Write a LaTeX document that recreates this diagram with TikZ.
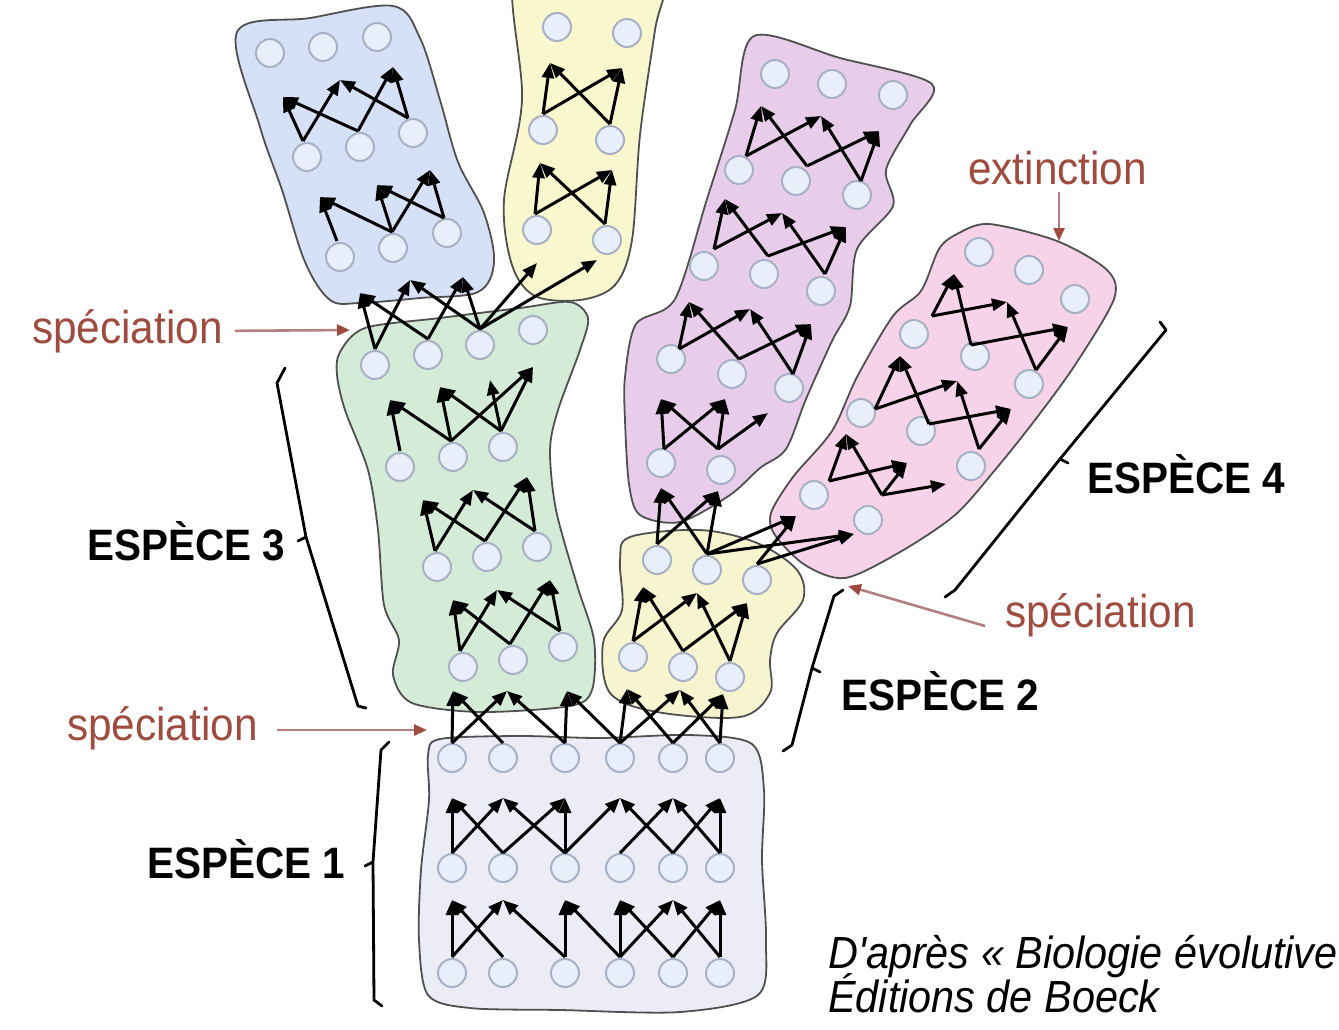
\documentclass[tikz,border=0pt]{standalone}
\usepackage{fontspec}
\setmainfont{Liberation Sans}
\newfontfamily\labfont{Liberation Sans}[FakeStretch=0.92]
\usetikzlibrary{arrows.meta}
\definecolor{outl}{RGB}{80,80,80}
\definecolor{cblue}{RGB}{214,224,246}
\definecolor{cyel}{RGB}{249,247,205}
\definecolor{cgreen}{RGB}{212,235,215}
\definecolor{cpink}{RGB}{232,205,234}
\definecolor{cpinkb}{RGB}{246,211,232}
\definecolor{cyelb}{RGB}{246,245,208}
\definecolor{clav}{RGB}{236,236,247}
\definecolor{cellfill}{RGB}{232,239,250}
\definecolor{celldraw}{RGB}{168,177,196}
\definecolor{redtxt}{RGB}{158,76,64}
\definecolor{redline}{RGB}{178,128,128}
\begin{document}
\begin{tikzpicture}[x=1pt,y=-1pt,
  region/.style={draw=outl,line width=1.8pt},
  cellc/.style={fill=cellfill,draw=celldraw,line width=2pt},
  arr/.style={draw=black,line width=3pt,-{Triangle[length=15pt,width=12pt]}},
  labarr/.style={draw=redline,line width=2.6pt,-{Triangle[length=13pt,width=11pt,color=redtxt]}},
  bracket/.style={draw=black,line width=2.8pt,line join=round,line cap=round},
  esp/.style={font=\labfont\bfseries\fontsize{44}{48}\selectfont,inner sep=0pt,anchor=base},
  redlab/.style={font=\labfont\fontsize{46}{50}\selectfont,text=redtxt,inner sep=0pt,anchor=base west},
  credit/.style={font=\labfont\itshape\fontsize{45}{48}\selectfont,inner sep=0pt,anchor=base west}
  ]
\fill[white] (0,0) rectangle (1339,1029);
\useasboundingbox (0,0) rectangle (1339,1029);
\begin{scope}
\clip (0,0) rectangle (1339,1029);
% regions
\draw[region,fill=cblue] plot[smooth cycle,tension=0.55] coordinates {(237,32) (310,18) (393,6) (420,38) (440,100) (458,162) (484,213) (494,262) (478,292) (420,298) (360,303) (330,300) (305,262) (282,190) (260,127)};
\draw[region,fill=cyel] plot[smooth cycle,tension=0.55] coordinates {(515,-30) (522,100) (504,200) (512,265) (535,296) (580,300) (615,285) (632,240) (640,135) (655,30) (664,-30) (590,-40)};
\draw[region,fill=cpink] plot[smooth cycle,tension=0.5] coordinates {(754,36) (840,58) (932,84) (910,125) (886,170) (893,206) (857,249) (850,306) (832,341) (806,399) (786,449) (760,468) (730,495) (680,522) (640,515) (629,484) (625,420) (625,377) (636,324) (675,299) (707,199) (735,110)};
\draw[region,fill=cpinkb] plot[smooth cycle,tension=0.5] coordinates {(957,234) (989,224) (1057,241) (1107,270) (1114,299) (1075,365) (1035,420) (995,470) (955,515) (900,552) (845,578) (805,565) (775,535) (771,513) (793,477) (832,431) (857,377) (893,316) (921,291) (939,249)};
\draw[region,fill=cyelb] plot[smooth cycle,tension=0.55] coordinates {(630,537) (700,530) (757,543) (797,570) (803,600) (777,633) (770,660) (770,693) (740,717) (657,712) (610,693) (603,643) (622,610) (620,560)};
\draw[region,fill=cgreen] plot[smooth cycle,tension=0.5] coordinates {(340,352) (365,328) (440,318) (520,308) (570,302) (588,318) (580,350) (558,410) (550,450) (556,510) (577,585) (594,640) (592,690) (570,706) (480,712) (412,703) (393,675) (399,640) (384,605) (378,530) (368,470) (345,410) (337,375)};
\draw[region,fill=clav] plot[smooth cycle,tension=0.5] coordinates {(440,739) (520,736) (600,738) (690,735) (752,744) (764,790) (762,860) (766,940) (758,995) (680,1012) (560,1010) (470,1008) (428,995) (419,940) (421,870) (429,800) (428,755)};
% individuals
\foreach \x in {452,503,565,620,673,720} \foreach \y in {758,868,973} \draw[cellc] (\x,\y) circle[radius=14pt];
\foreach \x/\y in {375/365,428/355,480/345,533/330,400/467,453/457,503/447,437/567,487/557,537/547,463/667,513/660,563/647,
  270/53,323/47,377/37,307/157,360/147,413/133,340/257,393/248,447/233,
  557/27,627/33,543/130,610/140,537/230,607/240,
  775/74,832/84,893/95,739/170,796/181,857/195,704/266,764/274,821/291,671/359,732/374,789/388,661/463,721/470,
  657/560,707/570,757/580,633/657,683/667,730/677,
  979/252,1029/270,1075/299,914/334,975/356,1029/384,861/413,921/431,971/466,814/495,868/520}
  \draw[cellc] (\x,\y) circle[radius=14pt];
% descent arrows
\foreach \a/\b/\c/\d in {
  452/957/452/900, 452/957/503/900, 503/957/452/900, 565/957/503/900, 565/957/565/900, 620/957/565/900,
  620/957/620/900, 620/957/673/900, 673/957/620/900, 673/957/720/900, 720/957/673/900, 720/957/720/900,
  452/853/452/798, 452/853/503/798, 503/853/452/798, 503/853/565/798, 565/853/503/798, 565/853/565/798,
  565/853/620/798, 673/853/620/798, 620/853/673/798, 673/853/720/798, 720/853/673/798, 720/853/720/798,
  452/743/453/691, 452/743/507/691, 503/743/453/691, 565/743/507/691, 565/743/567/691, 620/743/567/691,
  620/743/627/689, 620/743/680/690, 673/743/627/689, 673/743/723/694, 720/743/680/690, 720/743/723/694,
  460/651/453/600, 510/644/453/600, 460/651/497/590, 560/631/497/590, 510/644/550/580, 560/631/550/580,
  435/551/423/500, 485/541/423/500, 435/551/473/490, 535/531/473/490, 485/541/527/477, 535/531/527/477,
  400/451/390/400, 451/441/390/400, 451/441/440/387, 451/441/533/367, 501/431/490/380, 501/431/533/367, 501/431/440/387,
  375/349/360/293, 428/339/360/293, 375/349/410/280, 480/329/410/280, 428/339/463/277, 480/329/463/277,
  480/329/537/263, 480/329/597/260,
  337/241/320/197, 392/232/320/197, 392/232/377/185, 444/218/377/185, 444/218/430/170, 392/232/430/170,
  303/141/283/97, 358/131/283/97, 303/141/340/80, 408/118/340/80, 358/131/393/67, 408/118/393/67,
  543/114/550/63, 543/114/622/68, 610/124/550/63, 610/124/622/68,
  535/214/540/163, 535/214/612/170, 605/224/540/163, 605/224/612/170,
  746/156/761/106, 807/166/761/106, 746/156/821/116, 861/181/821/116, 807/166/879/131, 861/181/879/131,
  714/249/725/199, 768/256/725/199, 714/249/782/213, 825/274/782/213, 768/256/846/227, 825/274/846/227,
  679/349/689/302, 739/359/689/302, 679/349/750/309, 793/374/750/309, 739/359/811/324, 793/374/811/324,
  664/449/661/399, 718/449/661/399, 664/449/725/399, 718/449/725/399, 718/449/768/413,
  657/544/661/488, 707/554/661/488, 657/544/718/491, 707/554/718/491,
  633/641/643/587, 683/651/643/587, 633/641/697/593, 730/661/697/593, 683/651/747/603, 730/661/747/603,
  707/554/796/516, 757/564/796/516, 707/554/854/534, 757/564/854/534,
  932/316/954/274, 971/345/954/274, 932/316/1007/302, 1036/370/1007/302, 971/345/1068/327, 1036/370/1068/327,
  875/409/900/356, 929/424/900/356, 875/409/957/381, 979/449/957/381, 929/424/1011/409, 979/449/1011/409,
  829/481/846/434, 882/495/846/434, 829/481/907/463, 882/495/907/463, 882/495/946/484}
  \draw[arr] (\a,\b) -- (\c,\d);
\end{scope}
% brackets
\draw[bracket] (285,368) -- (277,383) -- (306,537) -- (358,706) -- (366,708);
\draw[bracket] (306,537) -- (298,541);
\draw[bracket] (389,742) -- (381,750) -- (373,862) -- (374,1000) -- (382,1006);
\draw[bracket] (373,862) -- (365,866);
\draw[bracket] (843,590) -- (834,596) -- (812,668) -- (792,745) -- (783,751);
\draw[bracket] (812,668) -- (820,672);
\draw[bracket] (1160,322) -- (1166,330) -- (1060,459) -- (955,590) -- (945,597);
\draw[bracket] (1060,459) -- (1068,463);
% labels
\node[esp] (e3) at (186,560) {ESPÈCE 3};
\node[esp] (e1) at (246,878) {ESPÈCE 1};
\node[esp] (e2) at (940,710) {ESPÈCE 2};
\node[esp] (e4) at (1186,493) {ESPÈCE 4};
\node[redlab] (s1) at (32,343) {spéciation};
\node[redlab] (s2) at (67,740) {spéciation};
\node[redlab] (s3) at (1005,627) {spéciation};
\node[redlab] (ex) at (968,184) {extinction};
\coordinate (t1) at (350,330);
\coordinate (t2) at (427,730);
\coordinate (t3) at (848,586);
\coordinate (t4) at (1059,241);
\draw[labarr] (s1.east) ++(12,0) -- (t1);
\draw[labarr] (277,730) -- (t2);
\draw[labarr] (985,626) -- (t3);
\draw[labarr] (1059,192) -- (t4);
\node[credit] (c1) at (828,968) {D'après « Biologie évolutive};
\node[credit] (c2) at (828,1012) {Éditions de Boeck};
\end{tikzpicture}
\end{document}
